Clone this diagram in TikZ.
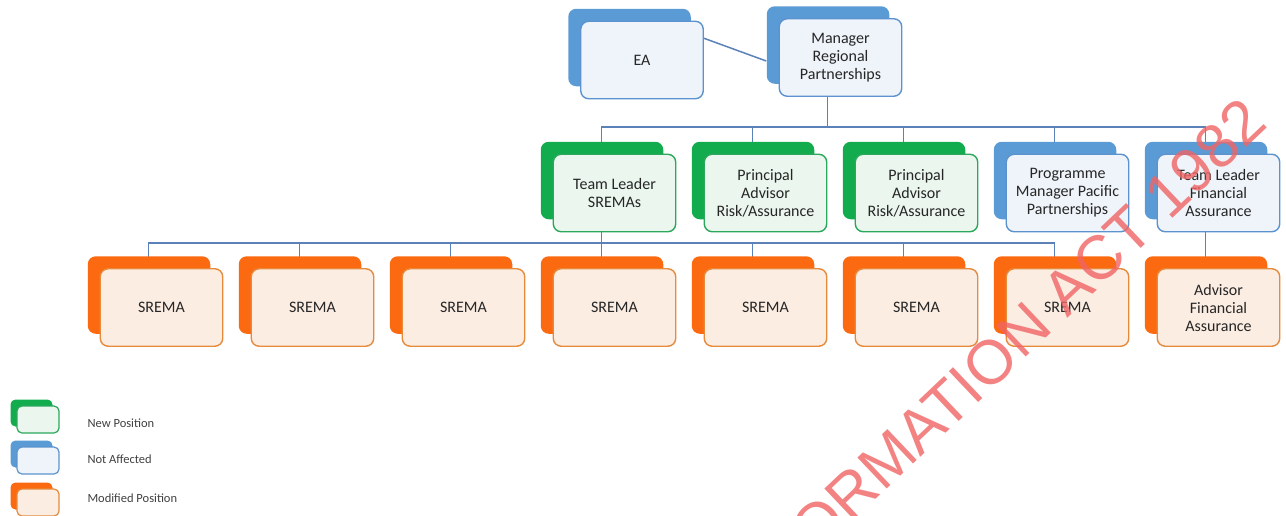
\documentclass[tikz,border=0pt]{standalone}
\usepackage{fontspec}
\setmainfont{Carlito}
\newfontfamily\watermarkfont{Liberation Sans}
\usetikzlibrary{shadows,backgrounds,positioning}
\definecolor{NewBack}{HTML}{12AC4E}
\definecolor{NewEdge}{HTML}{2BA85C}
\definecolor{NewFill}{HTML}{EAF6EE}
\definecolor{NotBack}{HTML}{5B9BD5}
\definecolor{NotEdge}{HTML}{5C93CE}
\definecolor{NotFill}{HTML}{EFF4FA}
\definecolor{ModBack}{HTML}{FB6A10}
\definecolor{ModEdge}{HTML}{E68A3C}
\definecolor{ModFill}{HTML}{FCEDE3}
\definecolor{LineBlue}{HTML}{5A82B8}
\definecolor{WatermarkRed}{HTML}{F06464}
\tikzset
{
  PositionNodeStyle/.style =
  {
    shape = rectangle,
    rounded corners = 8pt,
    line width = 1.4pt,
    outer sep = 0pt,
    minimum width = 122.5pt,
    minimum height = 77.5pt,
    inner sep = 2pt,
    align = center,
    text = black!85,
    font = \fontsize{16}{18}\selectfont,
  },
  LegendNodeStyle/.style =
  {
    shape = rectangle,
    rounded corners = 5pt,
    line width = 1.2pt,
    minimum width = 42pt,
    minimum height = 27pt,
    inner sep = 0pt,
  },
  NewPositionStyle/.style =
  {
    draw = NewEdge,
    fill = NewFill,
    copy shadow = {shadow xshift = -#1, shadow yshift = #1, draw = none, fill = NewBack},
  },
  NewPositionStyle/.default = 12.5pt,
  NotAffectedStyle/.style =
  {
    draw = NotEdge,
    fill = NotFill,
    copy shadow = {shadow xshift = -#1, shadow yshift = #1, draw = none, fill = NotBack},
  },
  NotAffectedStyle/.default = 12.5pt,
  ModifiedPositionStyle/.style =
  {
    draw = ModEdge,
    fill = ModFill,
    copy shadow = {shadow xshift = -#1, shadow yshift = #1, draw = none, fill = ModBack},
  },
  ModifiedPositionStyle/.default = 12.5pt,
  ConnectorStyle/.style =
  {
    draw = LineBlue,
    line width = 1.5pt,
  },
  LegendTextStyle/.style =
  {
    anchor = west,
    text = black!75,
    font = \fontsize{12.5}{14}\selectfont,
  },
  WatermarkStyle/.style =
  {
    text = WatermarkRed,
    text opacity = 0.8,
    inner sep = 0pt,
    font = \watermarkfont\fontsize{62}{62}\selectfont,
  }
}

\begin{document}
\begin{tikzpicture}[x=1pt, y=-1pt]
  \useasboundingbox (0,0) rectangle (1286,515);

  \node[PositionNodeStyle, NotAffectedStyle] (mgr) at (840.5,57.5) {Manager\\Regional\\Partnerships};
  \node[PositionNodeStyle, NotAffectedStyle, left = 76pt of mgr, yshift = -2.5pt] (ea) {EA};

  \node[PositionNodeStyle, ModifiedPositionStyle] (srema1) at (161.5,307.5) {SREMA};
  \node[PositionNodeStyle, ModifiedPositionStyle, right = 28.5pt of srema1] (srema2) {SREMA};
  \node[PositionNodeStyle, ModifiedPositionStyle, right = 28.5pt of srema2] (srema3) {SREMA};
  \node[PositionNodeStyle, ModifiedPositionStyle, right = 28.5pt of srema3] (srema4) {SREMA};
  \node[PositionNodeStyle, ModifiedPositionStyle, right = 28.5pt of srema4] (srema5) {SREMA};
  \node[PositionNodeStyle, ModifiedPositionStyle, right = 28.5pt of srema5] (srema6) {SREMA};
  \node[PositionNodeStyle, ModifiedPositionStyle, right = 28.5pt of srema6] (srema7) {SREMA};

  \node[PositionNodeStyle, NewPositionStyle, above = 37pt of srema4] (tls) {Team Leader\\SREMAs};
  \node[PositionNodeStyle, NewPositionStyle, right = 28.5pt of tls] (pa1) {Principal\\Advisor\\Risk/Assurance};
  \node[PositionNodeStyle, NewPositionStyle, right = 28.5pt of pa1] (pa2) {Principal\\Advisor\\Risk/Assurance};
  \node[PositionNodeStyle, NotAffectedStyle, right = 28.5pt of pa2] (pmpp) {Programme\\Manager Pacific\\Partnerships};
  \node[PositionNodeStyle, NotAffectedStyle, right = 28.5pt of pmpp] (tlfa) {Team Leader\\Financial\\Assurance};
  \node[PositionNodeStyle, ModifiedPositionStyle, below = 37pt of tlfa] (afa) {Advisor\\Financial\\Assurance};

  \coordinate (TopBus) at ([xshift = -13pt, yshift = -69.5pt]mgr.center);
  \coordinate (LowBus) at ([xshift = -13pt, yshift = -50pt]tls.center);

  \begin{scope}[on background layer]
    \draw[ConnectorStyle] ([yshift = 22pt]ea.east) -- ([xshift = -13pt, yshift = -3.5pt]mgr.west);
    \draw[ConnectorStyle] ([xshift = -13pt]mgr.center) -- (TopBus);
    \draw[ConnectorStyle]
      (TopBus) -| ([xshift = -13pt]tls.center)
      (TopBus) -| ([xshift = -13pt]pa1.center)
      (TopBus) -| ([xshift = -13pt]pa2.center)
      (TopBus) -| ([xshift = -13pt]pmpp.center)
      (TopBus) -| ([xshift = -13pt]tlfa.center);
    \draw[ConnectorStyle] ([xshift = -13pt]tls.center) -- (LowBus);
    \draw[ConnectorStyle]
      (LowBus) -| ([xshift = -13pt]srema1.center)
      (LowBus) -| ([xshift = -13pt]srema2.center)
      (LowBus) -| ([xshift = -13pt]srema3.center)
      (LowBus) -| ([xshift = -13pt]srema4.center)
      (LowBus) -| ([xshift = -13pt]srema5.center)
      (LowBus) -| ([xshift = -13pt]srema6.center)
      (LowBus) -| ([xshift = -13pt]srema7.center);
    \draw[ConnectorStyle] ([xshift = -13pt]tlfa.center) -- ([xshift = -13pt]afa.center);
  \end{scope}

  \node[LegendNodeStyle, NewPositionStyle = 6.5pt] (keynew) at (38,419.5) {};
  \node[LegendNodeStyle, NotAffectedStyle = 6.5pt] (keynot) at (38,460.5) {};
  \node[LegendNodeStyle, ModifiedPositionStyle = 6.5pt] (keymod) at (38,502.5) {};
  \node[LegendTextStyle] (keynewtext) at (84,423) {New Position};
  \node[LegendTextStyle] (keynottext) at (84,459) {Not Affected};
  \node[LegendTextStyle] (keymodtext) at (84,498) {Modified Position};

  \begin{scope}
    \clip (0,0) rectangle (1286,515);
    \node[WatermarkStyle, rotate = 43.5, anchor = base east] (watermark) at (1270,126) {INFORMATION ACT 1982};
  \end{scope}
\end{tikzpicture}
\end{document}
